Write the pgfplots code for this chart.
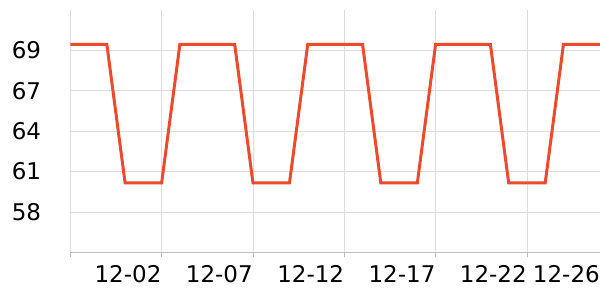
\documentclass[border=0pt]{standalone}
\usepackage{pgfplots}
\pgfplotsset{compat=1.18}
\usepackage{fontspec}
\setmainfont{DejaVu Sans}
\definecolor{lineC}{RGB}{236,74,44}
\definecolor{gridC}{RGB}{221,221,221}
\definecolor{axisC}{RGB}{190,190,190}
\begin{document}
\begin{tikzpicture}
\useasboundingbox (0,0) rectangle (600pt,300pt);
\begin{axis}[
  at={(70.3pt,47.7pt)}, anchor=south west,
  scale only axis, width=529.7pt, height=242.3pt,
  xmin=0, xmax=29, ymin=55.4, ymax=72.2,
  xtick={0,5,10,15,20,25,29},
  xticklabels={,12-02,12-07,12-12,12-17,12-22,12-26},
  ytick={58.2,61.0,63.8,66.6,69.4},
  yticklabels={58,61,64,67,69},
  grid=major,
  grid style={gridC, line width=0.8pt},
  axis x line*=bottom, axis y line*=left,
  x axis line style={axisC, line width=0.8pt},
  y axis line style={draw=none},
  xtick style={axisC, line width=0.8pt},
  ytick style={draw=none},
  tick align=outside, major tick length=5pt,
  /pgf/number format/assume math mode=true,
  ticklabel style={font=\fontsize{23}{27}\selectfont, text=black},
  xticklabel style={anchor=north east, inner sep=0pt, yshift=-8pt},
  yticklabel style={anchor=east, inner sep=0pt, xshift=-24pt},
  clip=true,
]
\addplot[lineC, line width=3pt, line join=miter] coordinates {
(0,69.82) (1,69.82) (2,69.82) (3,60.21) (4,60.21) (5,60.21)
(6,69.82) (7,69.82) (8,69.82) (9,69.82) (10,60.21) (11,60.21) (12,60.21)
(13,69.82) (14,69.82) (15,69.82) (16,69.82) (17,60.21) (18,60.21) (19,60.21)
(20,69.82) (21,69.82) (22,69.82) (23,69.82) (24,60.21) (25,60.21) (26,60.21)
(27,69.82) (28,69.82) (29,69.82)
};
\end{axis}
\end{tikzpicture}
\end{document}
